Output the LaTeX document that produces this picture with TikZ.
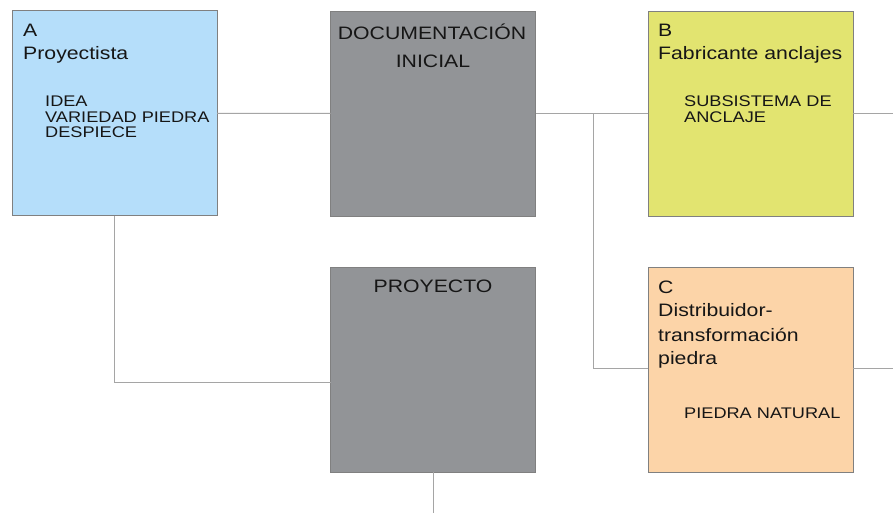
\documentclass[tikz,border=0pt]{standalone}
\usepackage{fontspec}
\setmainfont[FakeStretch=1.18]{Liberation Sans}
\definecolor{cA}{RGB}{181,222,250}
\definecolor{cB}{RGB}{226,228,112}
\definecolor{cC}{RGB}{252,212,168}
\definecolor{cG}{RGB}{146,148,151}
\definecolor{txt}{RGB}{22,22,22}
\definecolor{wire}{RGB}{165,165,165}
\begin{document}
\begin{tikzpicture}[x=1pt,y=-1pt,
  box/.style={draw=black!50, line width=0.9pt, rectangle, inner sep=0pt, outer sep=0pt,
    minimum width=205pt, minimum height=205pt},
  mainlbl/.style={anchor=base west, inner sep=0pt, text=txt, font=\fontsize{18}{22}\selectfont},
  sublbl/.style={anchor=base west, inner sep=0pt, text=txt, font=\fontsize{15.4}{18}\selectfont},
  titlbl/.style={anchor=base, inner sep=0pt, text=txt, font=\fontsize{18}{22}\selectfont},
  wireline/.style={draw=wire, line width=1pt}]
\useasboundingbox (0,0) rectangle (893,513);
\fill[white] (0,0) rectangle (893,513);
% boxes
\node[box, fill=cA] (A) at (114.5,113.25) {};
\node[box, fill=cG] (D) at (433,113.5) {};
\node[box, fill=cB] (B) at (750.5,113.5) {};
\node[box, fill=cG] (P) at (433,369.5) {};
\node[box, fill=cC] (C) at (750.5,369.5) {};
% connector coordinates
\coordinate (Bout) at (893,113.5);
\coordinate (J) at (593,113.5);
\coordinate (Jd) at (593,368);
\coordinate (Cout) at (893,368);
\coordinate (Ad) at (114.5,382);
\coordinate (Pin) at (331,382);
\coordinate (Pout) at (433,513);
% connectors
\draw[wireline] (A.east) -- (D.west);
\draw[wireline] (D.east) -- (B.west);
\draw[wireline] (B.east) -- (Bout);
\draw[wireline] (J) -- (Jd) -- (C.west |- Jd);
\draw[wireline] (C.east |- Cout) -- (Cout);
\draw[wireline] (A.south) -- (Ad) -- (Pin);
\draw[wireline] (P.south) -- (Pout);
% texts A
\node[mainlbl] (At1) at (23,36.3) {A};
\node[mainlbl] (At2) at (23,59.7) {Proyectista};
\node[sublbl] (As1) at (45,106.3) {IDEA};
\node[sublbl] (As2) at (45,122.2) {VARIEDAD PIEDRA};
\node[sublbl] (As3) at (45,138) {DESPIECE};
% texts D
\node[titlbl] (Dt1) at (432,39.7) {DOCUMENTACIÓN};
\node[titlbl] (Dt2) at (433,67.3) {INICIAL};
% texts B
\node[mainlbl] (Bt1) at (658,36.3) {B};
\node[mainlbl] (Bt2) at (658,59.7) {Fabricante anclajes};
\node[sublbl] (Bs1) at (684,106.3) {SUBSISTEMA DE};
\node[sublbl] (Bs2) at (684,122.3) {ANCLAJE};
% texts P
\node[titlbl] (Pt1) at (433,292.3) {PROYECTO};
% texts C
\node[mainlbl] (Ct1) at (658,293.3) {C};
\node[mainlbl] (Ct2) at (658,316) {Distribuidor-};
\node[mainlbl] (Ct3) at (658,341) {transformación};
\node[mainlbl] (Ct4) at (658,364.5) {piedra};
\node[sublbl] (Cs1) at (684,418.3) {PIEDRA NATURAL};
\end{tikzpicture}
\end{document}
